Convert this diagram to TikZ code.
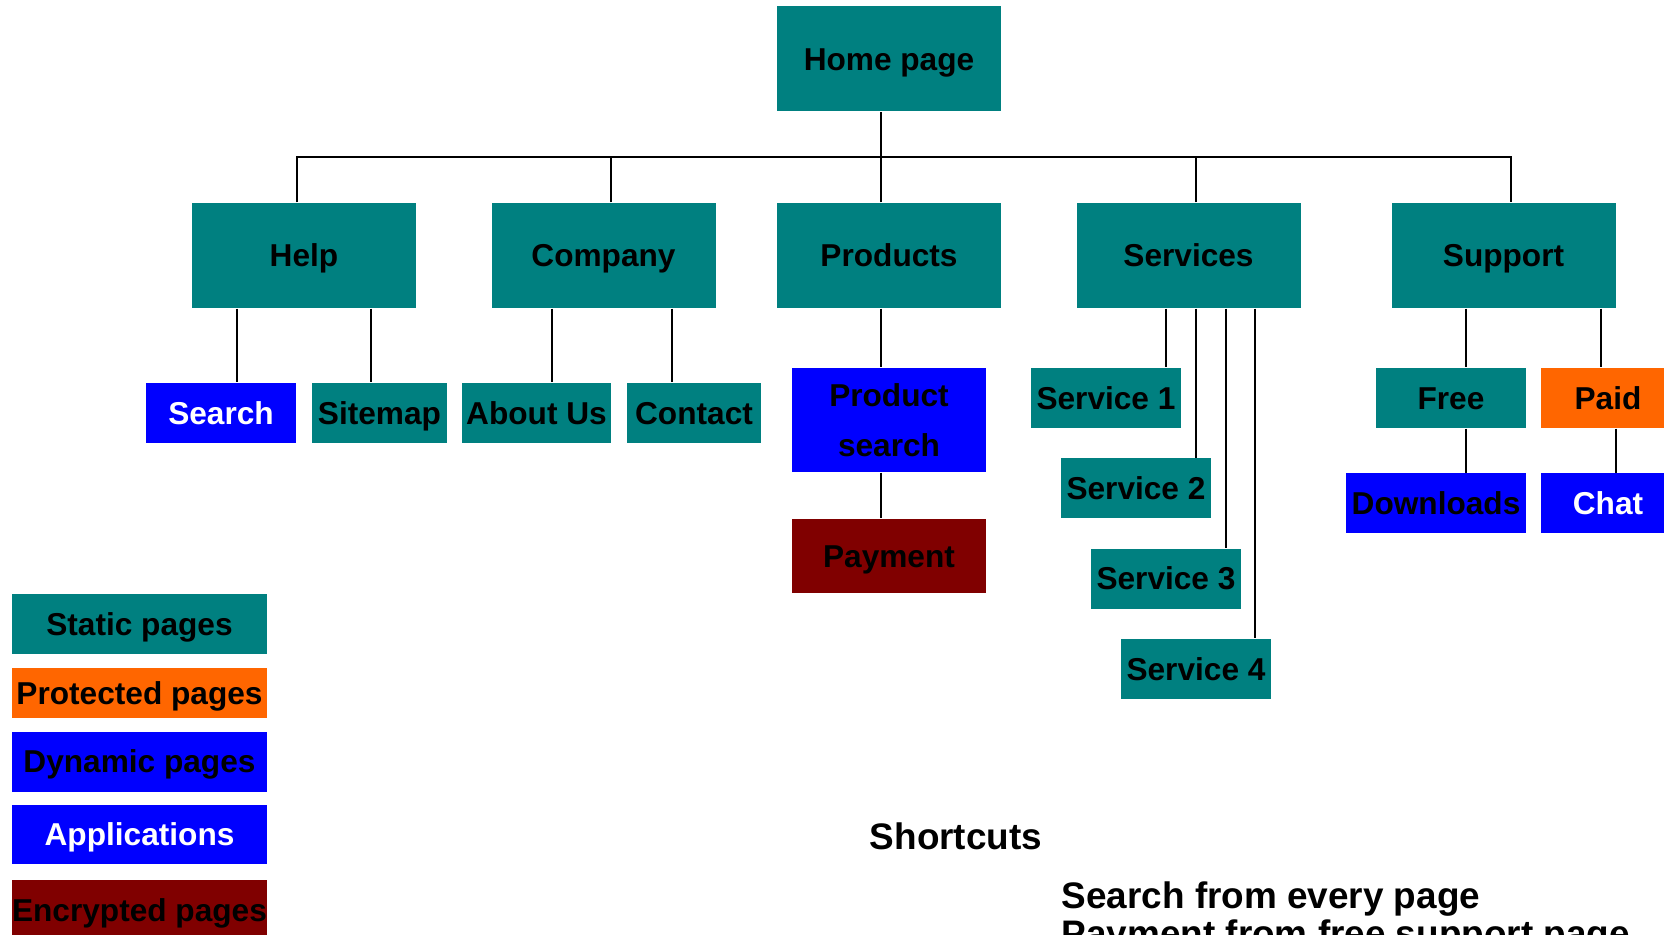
\documentclass[tikz,border=0pt]{standalone}
\usepackage{fontspec}
\setmainfont{Liberation Sans}
\definecolor{smteal}{HTML}{008080}
\definecolor{smorange}{HTML}{FF6600}
\definecolor{smblue}{HTML}{0000FF}
\definecolor{smmaroon}{HTML}{800000}
\tikzset{
  smbox/.style={rectangle, inner sep=0pt, align=center,
    font=\fontsize{9}{14.2}\selectfont\bfseries, text height=6.4pt, text depth=0pt},
  smstatic/.style={smbox, fill=smteal},
  smprot/.style={smbox, fill=smorange},
  smdyn/.style={smbox, fill=smblue},
  smapp/.style={smbox, fill=smblue, text=white},
  smenc/.style={smbox, fill=smmaroon},
  smtop/.style={minimum width=22.4mm, minimum height=10.5mm},
  smleaf/.style={minimum width=15mm, minimum height=6mm},
  smkey/.style={minimum width=25.5mm},
  smtext/.style={inner sep=0pt, font=\fontsize{10.5}{10.8}\selectfont\bfseries},
  smline/.style={draw=black, line width=0.7pt}
}
\begin{document}
\begin{tikzpicture}[x=0.1mm, y=-0.1mm]
  \useasboundingbox (0,0) rectangle (1664,935);
  % tree
  \node[smstatic, smtop] (home) at (889,59) {Home page};
  \coordinate (bus) at (881,157);
  \node[smstatic, smtop] (help) at (304,255.5) {Help};
  \node[smstatic, smtop] (comp) at (603.5,255.5) {Company};
  \node[smstatic, smtop] (prod) at (889,255.5) {Products};
  \node[smstatic, smtop] (serv) at (1188.5,255.5) {Services};
  \node[smstatic, smtop] (supp) at (1503.5,255.5) {Support};
  \node[smapp, smleaf] (srch) at (221,413) {Search};
  \node[smstatic, smleaf, minimum width=13.5mm] (smap) at (379.5,413) {Sitemap};
  \node[smstatic, smleaf, minimum width=14.9mm] (about) at (536.5,413) {About Us};
  \node[smstatic, smleaf, minimum width=13.4mm] (cont) at (694,413) {Contact};
  \node[smdyn, minimum width=19.4mm, minimum height=10.4mm, text height=, text depth=] (psrch) at (889,420) {Product\\search};
  \node[smenc, minimum width=19.4mm, minimum height=7.4mm] (pay) at (889,556) {Payment};
  \node[smstatic, smleaf] (sv1) at (1106,398) {Service 1};
  \node[smstatic, smleaf] (sv2) at (1136,488.5) {Service 2};
  \node[smstatic, smleaf] (sv3) at (1166,578.5) {Service 3};
  \node[smstatic, smleaf] (sv4) at (1196,669) {Service 4};
  \node[smstatic, smleaf] (free) at (1451,398) {Free};
  \node[smprot, smleaf, minimum width=13.4mm] (paid) at (1608,398) {Paid};
  \node[smdyn, smleaf, minimum width=18mm] (dl) at (1436,503.5) {Downloads};
  \node[smapp, smleaf, minimum width=13.4mm] (chat) at (1608,503.5) {Chat};
  % key
  \node[smstatic, smkey, minimum height=6mm] (kstat) at (139.5,624) {Static pages};
  \node[smprot, smkey, minimum height=5mm] (kprot) at (139.5,693) {Protected pages};
  \node[smdyn, smkey, minimum height=6mm] (kdyn) at (139.5,761.5) {Dynamic pages};
  \node[smapp, smkey, minimum height=5.9mm] (kapp) at (139.5,834.5) {Applications};
  \node[smenc, smkey, minimum height=6mm] (kenc) at (139.5,910) {Encrypted pages};
  % shortcuts
  \node[smtext, anchor=base] (short) at (956,849) {Shortcuts};
  \node[smtext, anchor=base west] (sc1) at (1061,908) {Search from every page};
  \node[smtext, anchor=base west] (sc2) at (1061,946) {Payment from free support page};
  % links
  \draw[smline] (home.south -| bus) -- (bus);
  \draw[smline] (help.north -| 297,0) |- (bus) -| (supp.north -| 1511,0);
  \draw[smline] (comp.north -| 611,0) -- (bus -| 611,0);
  \draw[smline] (prod.north -| bus) -- (bus);
  \draw[smline] (serv.north -| 1196,0) -- (bus -| 1196,0);
  \draw[smline] (help.south -| 237,0) -- (srch.north -| 237,0);
  \draw[smline] (help.south -| 371,0) -- (smap.north -| 371,0);
  \draw[smline] (comp.south -| 552,0) -- (about.north -| 552,0);
  \draw[smline] (comp.south -| 672,0) -- (cont.north -| 672,0);
  \draw[smline] (prod.south -| bus) -- (psrch.north -| bus);
  \draw[smline] (psrch.south -| bus) -- (pay.north -| bus);
  \draw[smline] (serv.south -| 1166,0) -- (sv1.north -| 1166,0);
  \draw[smline] (serv.south -| 1196,0) -- (sv2.north -| 1196,0);
  \draw[smline] (serv.south -| 1226,0) -- (sv3.north -| 1226,0);
  \draw[smline] (serv.south -| 1255,0) -- (sv4.north -| 1255,0);
  \draw[smline] (supp.south -| 1466,0) -- (free.north -| 1466,0);
  \draw[smline] (supp.south -| 1601,0) -- (paid.north -| 1601,0);
  \draw[smline] (free.south -| 1466,0) -- (dl.north -| 1466,0);
  \draw[smline] (paid.south -| 1616,0) -- (chat.north -| 1616,0);
\end{tikzpicture}
\end{document}
